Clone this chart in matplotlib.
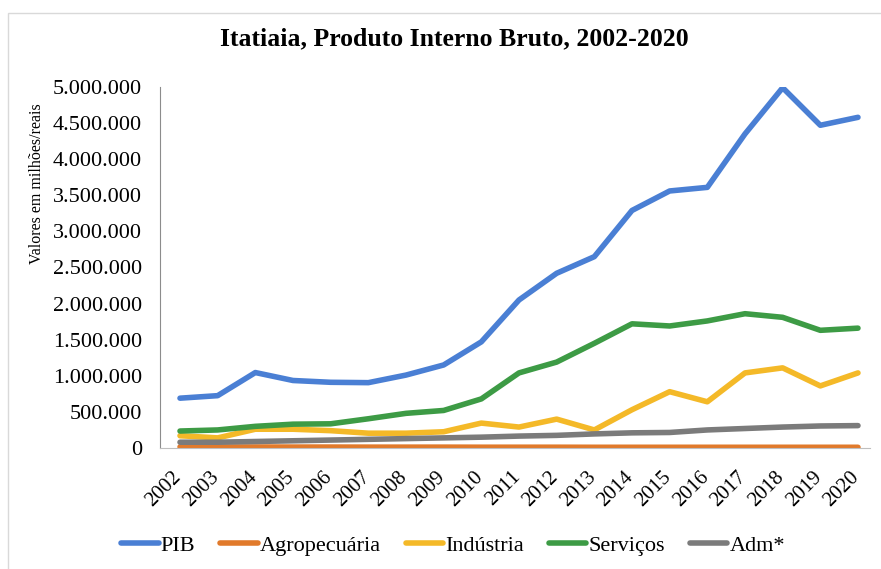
import matplotlib
matplotlib.use('Agg')
import matplotlib.pyplot as plt
import matplotlib.transforms as mtransforms
from matplotlib.ticker import FuncFormatter
from matplotlib.patches import Rectangle

# Séries do PIB de Itatiaia (valores em milhões de reais)
anos = list(range(2002, 2021))
pib = [690000, 725000, 1045000, 935000, 910000, 905000, 1010000, 1150000, 1470000,
       2050000, 2420000, 2650000, 3290000, 3560000, 3610000, 4350000, 4990000,
       4470000, 4580000]
agropecuaria = [15000, 14000, 14000, 13000, 13000, 12000, 12000, 12000, 11000, 11000,
                11000, 10000, 10000, 10000, 10000, 10000, 10000, 10000, 10000]
industria = [170000, 140000, 260000, 260000, 240000, 205000, 205000, 225000, 345000,
             290000, 400000, 250000, 530000, 780000, 640000, 1040000, 1110000,
             860000, 1040000]
servicos = [235000, 250000, 300000, 330000, 335000, 405000, 480000, 520000, 680000,
            1040000, 1190000, 1450000, 1720000, 1690000, 1760000, 1860000, 1810000,
            1630000, 1660000]
adm = [80000, 80000, 90000, 100000, 110000, 120000, 130000, 140000, 150000, 165000,
       175000, 195000, 210000, 215000, 250000, 270000, 290000, 305000, 310000]

series = [
    ('PIB', pib, '#4a7fd4'),
    ('Agropecuária', agropecuaria, '#e17a2b'),
    ('Indústria', industria, '#f4b928'),
    ('Serviços', servicos, '#3d9b45'),
    ('Adm*', adm, '#7b7b7b'),
]

plt.rcParams['font.family'] = ['Liberation Serif', 'DejaVu Serif']

fig = plt.figure(figsize=(8.81, 5.69), dpi=100)
ax = fig.add_axes([160 / 881, 1 - 448 / 569, 710 / 881, 361 / 569])

# moldura da área do gráfico
fig.patches.append(Rectangle((8 / 881, -0.01), 1.0, 1 - 13 / 569 + 0.01,
                             transform=fig.transFigure, fill=False,
                             edgecolor='#d9d9d9', linewidth=1.0))

for nome, valores, cor in series:
    ax.plot(anos, valores, color=cor, linewidth=4.0, label=nome,
            solid_capstyle='round', solid_joinstyle='round')

ax.set_xlim(2001.469, 2020.319)
ax.set_ylim(0, 5000000)
ax.set_yticks(range(0, 5000001, 500000))
ax.yaxis.set_major_formatter(FuncFormatter(lambda v, p: f'{int(v):,}'.replace(',', '.')))
ax.set_xticks(anos)
ax.set_xticklabels([str(a) for a in anos], rotation=45, ha='right', va='top',
                   rotation_mode='anchor', fontsize=15)
ax.tick_params(axis='y', labelsize=16, length=0, pad=13)
ax.tick_params(axis='x', length=0, pad=14)

# rótulos do eixo x um pouco à esquerda de cada ano
desloca = mtransforms.ScaledTranslation(-8 / 100, 0, fig.dpi_scale_trans)
for rotulo in ax.get_xticklabels():
    rotulo.set_transform(rotulo.get_transform() + desloca)

for lado in ['top', 'right']:
    ax.spines[lado].set_visible(False)
ax.spines['left'].set_color('#8c8c8c')
ax.spines['bottom'].set_color('#bfbfbf')

fig.text(37 / 881, 1 - 184 / 569, 'Valores em milhões/reais', rotation=90,
         ha='center', va='center', fontsize=11.5)

fig.text(454 / 881, 1 - 39 / 569, 'Itatiaia, Produto Interno Bruto, 2002-2020',
         ha='center', va='center', fontsize=18.5, fontweight='bold')

fig.legend(loc='center', bbox_to_anchor=(453 / 881, 1 - 546 / 569), ncol=5,
           frameon=False, fontsize=16, handlelength=1.7, handletextpad=0.1,
           columnspacing=1.1, borderaxespad=0, borderpad=0)

fig.savefig('out.png', dpi=100)
